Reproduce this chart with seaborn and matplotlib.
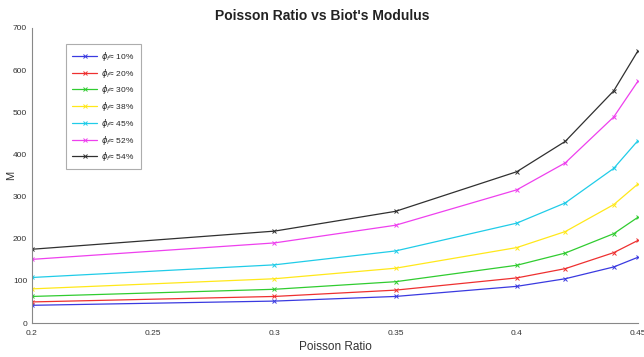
import pandas as pd
import matplotlib
matplotlib.use("Agg")
import matplotlib.pyplot as plt
import seaborn as sns

# Data
poisson = [0.2, 0.3, 0.35, 0.4, 0.42, 0.44, 0.45]
labels = ["10%", "20%", "30%", "38%", "45%", "52%", "54%"]
m_10 = [42, 52, 63, 87, 105, 133, 156]
m_20 = [50, 63, 78, 107, 129, 167, 196]
m_30 = [63, 80, 98, 137, 166, 212, 251]
m_38 = [81, 105, 130, 179, 217, 281, 330]
m_45 = [108, 138, 171, 237, 285, 367, 433]
m_52 = [151, 190, 232, 316, 380, 489, 574]
m_54 = [175, 218, 265, 359, 431, 551, 646]
series = [m_10, m_20, m_30, m_38, m_45, m_52, m_54]
colors = ["#3a3ae0", "#ee3030", "#30cc30", "#ffe81a", "#20cce8", "#ee40ee", "#303030"]

rows = []
for lab, vals in zip(labels, series):
    for x, y in zip(poisson, vals):
        rows.append({"Poisson Ratio": x, "M": y, "phi": r"$\phi_f$≈ " + lab})
df = pd.DataFrame(rows)

sns.set_style("white")
plt.rcParams["font.family"] = ["Liberation Sans", "DejaVu Sans"]

fig = plt.figure(figsize=(6.44, 3.57), dpi=100)
ax = fig.add_axes([32 / 644, 1 - 323 / 357, (638 - 32) / 644, (323 - 28) / 357])

hue_order = [r"$\phi_f$≈ " + lab for lab in labels]
sns.lineplot(data=df, x="Poisson Ratio", y="M", hue="phi", hue_order=hue_order,
             palette=colors, marker="x", markersize=3.2, markeredgewidth=0.7,
             linewidth=0.9, ax=ax)
for line in ax.get_lines():
    line.set_markeredgecolor(line.get_color())

ax.set_xlim(0.2, 0.45)
ax.set_ylim(0, 700)
ax.set_xticks([0.2, 0.25, 0.3, 0.35, 0.4, 0.45])
ax.set_xticklabels(["0.2", "0.25", "0.3", "0.35", "0.4", "0.45"])
ax.set_yticks(range(0, 701, 100))
ax.tick_params(direction="in", length=4, width=0.6, colors="#555555",
               labelsize=6, labelcolor="#333333")
ax.tick_params(axis="x", pad=5)
for side in ["top", "right"]:
    ax.spines[side].set_visible(False)
for side in ["left", "bottom"]:
    ax.spines[side].set_color("#888888")
    ax.spines[side].set_linewidth(0.8)

ax.set_xlabel("Poisson Ratio", fontsize=8.5, color="#333333", labelpad=3)
ax.set_ylabel("M", fontsize=8, color="#333333")
ax.yaxis.set_label_coords(-0.027, 0.5)
fig.text(0.5, 0.955, "Poisson Ratio vs Biot's Modulus", ha="center", va="center",
         fontsize=10, fontweight="bold", color="#222222")

leg = ax.legend(loc="upper left", bbox_to_anchor=(0.05, 0.96), fontsize=6,
                frameon=True, fancybox=False, edgecolor="#999999",
                handlelength=3, labelspacing=0.45, borderpad=0.7,
                handletextpad=0.5)
leg.get_frame().set_linewidth(0.8)
for h in leg.get_lines():
    h.set_markeredgecolor(h.get_color())

fig.savefig("out.png", dpi=100)
